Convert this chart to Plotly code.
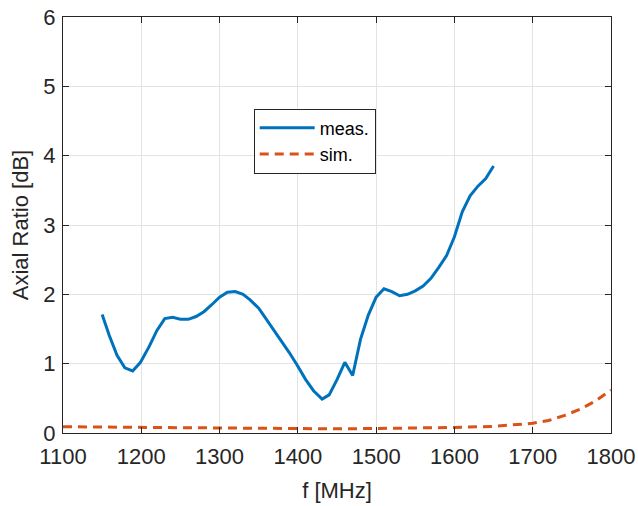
import plotly.graph_objects as go

meas_f = [1150, 1159, 1169, 1179, 1189, 1199, 1210, 1220, 1230, 1240, 1250, 1260, 1270, 1280,
          1290, 1300, 1310, 1320, 1330, 1339, 1350, 1360, 1369, 1380, 1389, 1399, 1410, 1420,
          1431, 1440, 1450, 1460, 1470, 1480, 1490, 1500, 1510, 1520, 1530, 1540, 1550, 1560,
          1570, 1580, 1590, 1600, 1610, 1620, 1630, 1640, 1650]
meas_ar = [1.71, 1.41, 1.12, 0.94, 0.895, 1.02, 1.245, 1.48, 1.65, 1.67, 1.64, 1.64, 1.68, 1.75,
           1.85, 1.96, 2.03, 2.04, 2.0, 1.92, 1.80, 1.64, 1.48, 1.32, 1.16, 0.98, 0.77, 0.61,
           0.49, 0.55, 0.77, 1.02, 0.83, 1.35, 1.70, 1.96, 2.08, 2.04, 1.98, 2.0, 2.05, 2.12,
           2.23, 2.39, 2.56, 2.83, 3.19, 3.42, 3.56, 3.67, 3.85]

sim_f = [1100, 1150, 1200, 1250, 1300, 1350, 1400, 1450, 1500, 1550, 1600, 1650, 1700,
         1720, 1740, 1760, 1780, 1800]
sim_ar = [0.09, 0.085, 0.08, 0.075, 0.07, 0.065, 0.06, 0.06, 0.065, 0.07, 0.08, 0.095, 0.14,
          0.18, 0.25, 0.34, 0.46, 0.62]

x_ticks = [1100, 1200, 1300, 1400, 1500, 1600, 1700, 1800]
y_ticks = [0, 1, 2, 3, 4, 5, 6]

FONT = "Liberation Sans, Arial"
DARK = "#262626"

fig = go.Figure()
fig.add_trace(go.Scatter(x=meas_f, y=meas_ar, mode="lines", name="meas.",
                         line=dict(color="#0072BD", width=3)))
fig.add_trace(go.Scatter(x=sim_f, y=sim_ar, mode="lines", name="sim.",
                         line=dict(color="#D95319", width=3, dash="9px,6px")))

axis_common = dict(showgrid=True, gridcolor="#e3e3e3", gridwidth=1, zeroline=False,
                   showline=True, linecolor=DARK, linewidth=1, mirror="ticks",
                   ticks="inside", ticklen=6, tickcolor=DARK, automargin=False,
                   tickfont=dict(family=FONT, size=22, color=DARK))

fig.update_xaxes(range=[1100, 1800], tickvals=x_ticks, ticklabelstandoff=4,
                 title=dict(text="f [MHz]", font=dict(family=FONT, size=22, color=DARK), standoff=14),
                 **axis_common)
fig.update_yaxes(range=[0, 6], tickvals=y_ticks, ticklabelstandoff=2,
                 title=dict(text="Axial Ratio [dB]", font=dict(family=FONT, size=22, color=DARK), standoff=8),
                 **axis_common)

fig.update_layout(
    width=638, height=506,
    margin=dict(l=63, r=27, t=17, b=73),
    paper_bgcolor="white", plot_bgcolor="white",
    showlegend=True,
    legend=dict(x=0.348, y=0.78, xanchor="left", yanchor="top",
                bgcolor="white", bordercolor=DARK, borderwidth=1,
                font=dict(family=FONT, size=18, color="#000000"),
                itemwidth=55, tracegroupgap=0),
)

fig.write_html("out.html")
